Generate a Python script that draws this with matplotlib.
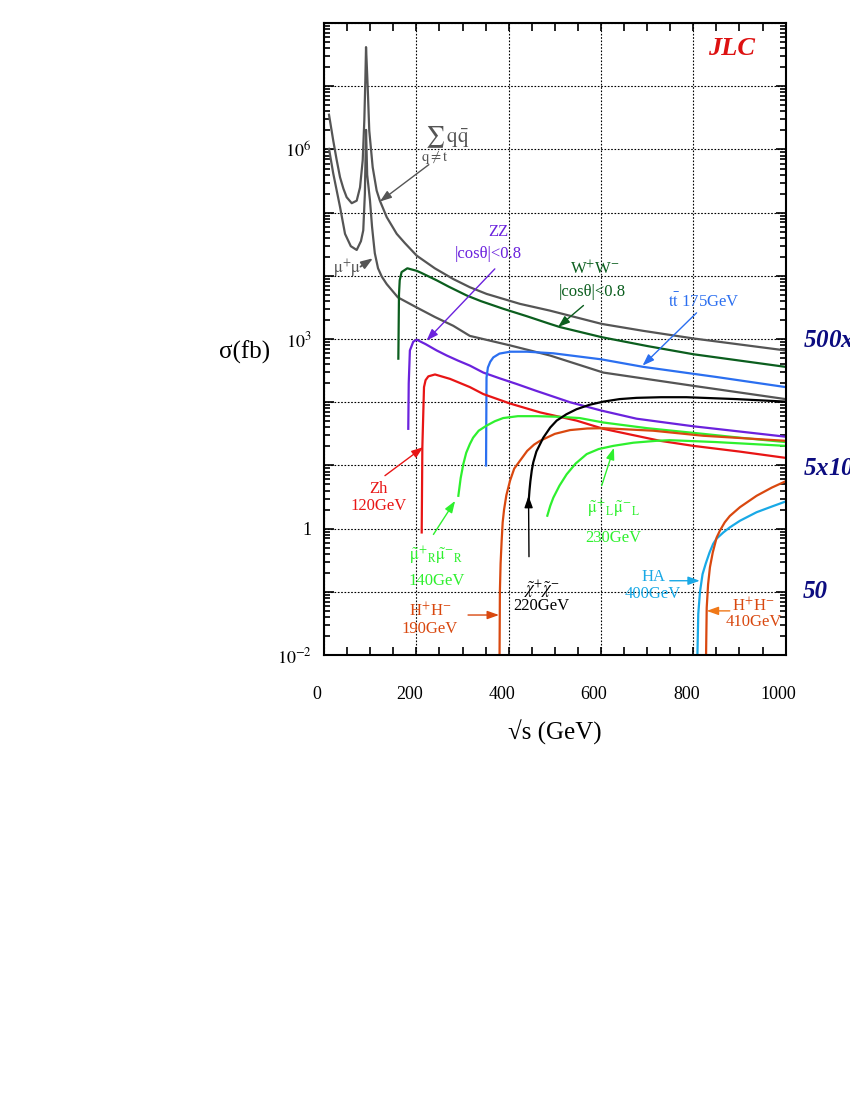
import numpy as np
import matplotlib
matplotlib.use('Agg')
import matplotlib.pyplot as plt
from matplotlib.ticker import FixedLocator, MultipleLocator, LogLocator, FuncFormatter, NullFormatter
from matplotlib.transforms import ScaledTranslation

plt.rcParams['font.family'] = ['Liberation Serif', 'DejaVu Serif']
plt.rcParams['mathtext.fontset'] = 'stix'

# sqrt(s) in GeV and log10 of the cross section in fb
qq_x = [10.8, 20, 27, 34.7, 42, 49, 60, 70.8, 78, 83.8, 87.3, 89.5, 91, 94.6, 98, 105.4, 114,
        121, 135.8, 157.5, 175, 200.8, 240, 280, 316, 352, 424.5, 489.5, 601.5, 691.6, 800, 1000]
qq_lg = [6.55, 6.14, 5.85, 5.56, 5.38, 5.245, 5.15, 5.19, 5.40, 5.83, 6.46, 7.09, 7.62, 6.99,
         6.30, 5.72, 5.35, 5.19, 4.93, 4.665, 4.52, 4.32, 4.12, 3.95, 3.82, 3.715, 3.557, 3.45,
         3.24, 3.13, 3.01, 2.82]

mumu_x = [10.8, 20, 34.7, 45.5, 58, 70.8, 80, 85, 88.5, 91, 93.5, 99.6, 104, 106.8, 110, 117,
          125, 135.8, 160, 200.8, 240, 280, 316, 403, 489.5, 605, 800, 1000]
mumu_lg = [6.01, 5.62, 5.09, 4.665, 4.47, 4.41, 4.55, 4.72, 5.3, 6.31, 5.6, 5.19, 4.78, 4.58,
           4.36, 4.12, 3.99, 3.87, 3.66, 3.50, 3.35, 3.21, 3.05, 2.90, 2.74, 2.47, 2.26, 2.05]

ww_x = [161, 162.4, 164, 168, 180.5, 200.8, 210, 244, 270, 309, 340, 388, 440, 489.5, 511,
        601.5, 700, 800, 900, 1000]
ww_lg = [2.69, 3.71, 3.93, 4.06, 4.12, 4.08, 4.05, 3.93, 3.83, 3.69, 3.60, 3.48, 3.36, 3.24,
         3.19, 3.03, 2.89, 2.76, 2.66, 2.56]

zz_x = [182.5, 183.5, 186, 193.4, 200.8, 220, 244, 265.8, 290, 316, 345, 380, 417, 460, 533,
        600, 677, 800, 1000]
zz_lg = [1.58, 2.3, 2.82, 2.96, 2.99, 2.92, 2.82, 2.74, 2.66, 2.58, 2.47, 2.38, 2.29, 2.18,
         2.0, 1.87, 1.74, 1.62, 1.455]

tt_x = [351, 352, 355, 360, 366.7, 380, 403, 440, 496.6, 600, 691.6, 850, 1000]
tt_lg = [1.0, 2.39, 2.55, 2.64, 2.71, 2.77, 2.80, 2.80, 2.775, 2.68, 2.56, 2.40, 2.24]

zh_x = [211.6, 213, 216.6, 220, 226, 240.4, 273, 316, 345, 403, 468, 547, 605, 728, 800, 900,
        1000]
zh_lg = [-0.06, 1.29, 2.24, 2.35, 2.41, 2.44, 2.37, 2.24, 2.13, 1.98, 1.84, 1.71, 1.58, 1.39,
         1.31, 1.22, 1.12]

smuR_x = [291, 296, 301.7, 308, 316, 323, 335, 352, 370, 388, 420, 460.7, 510, 554, 605, 700,
          821.5, 900, 1000]
smuR_lg = [0.52, 0.8, 1.02, 1.2, 1.34, 1.44, 1.55, 1.63, 1.70, 1.75, 1.78, 1.78, 1.77, 1.75,
           1.68, 1.59, 1.50, 1.44, 1.37]

smuL_x = [483.7, 490, 496.7, 510, 525.6, 545, 569, 595, 626.6, 670, 720, 749, 850, 1000]
smuL_lg = [0.205, 0.36, 0.49, 0.68, 0.86, 1.03, 1.18, 1.26, 1.31, 1.36, 1.39, 1.40, 1.37, 1.31]

hh190_x = [380, 381, 382.5, 384.8, 387, 390, 395, 403, 412, 425, 440, 455, 468, 500, 533, 570,
           605, 713, 821.5, 1000]
hh190_lg = [-2.3, -0.98, -0.55, -0.19, 0.1, 0.3, 0.53, 0.76, 0.95, 1.08, 1.23, 1.33, 1.39, 1.50,
            1.56, 1.585, 1.59, 1.55, 1.47, 1.39]

chi_x = [443, 445, 447, 450, 453.3, 460, 475, 490, 504, 525, 547, 575, 605, 640, 677, 730, 785,
         894, 1000]
chi_lg = [0.4, 0.6, 0.75, 0.92, 1.05, 1.22, 1.44, 1.6, 1.71, 1.81, 1.89, 1.96, 2.01, 2.05, 2.07,
          2.08, 2.08, 2.05, 2.01]

ha_x = [808, 810.7, 814.4, 820, 827, 835, 843, 850, 865, 879, 901, 937, 970, 1000]
ha_lg = [-2.3, -1.35, -1.0, -0.72, -0.55, -0.38, -0.24, -0.16, -0.06, 0.02, 0.125, 0.26, 0.35,
         0.43]

hh410_x = [827, 829, 832, 836, 842, 850.5, 857.7, 868, 879, 901, 937, 970, 1000]
hh410_lg = [-2.3, -1.25, -0.88, -0.61, -0.38, -0.14, -0.03, 0.1, 0.2, 0.34, 0.52, 0.65, 0.75]

gray = '#555555'
dkgreen = '#0b5e1e'
purple = '#6b22dd'
blue = '#2b6ff0'
red = '#e81515'
lgreen = '#2ef02e'
orange = '#d9480f'
cyan = '#19a9e6'

fig = plt.figure(figsize=(8.5, 11), dpi=100)
ax = fig.add_axes([0.3812, 0.4045, 0.5431, 0.5745])

curves = [(qq_x, qq_lg, gray), (mumu_x, mumu_lg, gray), (ww_x, ww_lg, dkgreen),
          (zz_x, zz_lg, purple), (tt_x, tt_lg, blue), (zh_x, zh_lg, red),
          (smuR_x, smuR_lg, lgreen), (smuL_x, smuL_lg, lgreen), (hh190_x, hh190_lg, orange),
          (chi_x, chi_lg, 'black'), (ha_x, ha_lg, cyan), (hh410_x, hh410_lg, orange)]
for xs, lg, c in curves:
    ax.plot(xs, 10.0 ** np.array(lg), color=c, lw=1.6, solid_joinstyle='round')

ax.set_yscale('log')
ax.set_xlim(0, 1000)
ax.set_ylim(1e-2, 1e8)

ax.xaxis.set_major_locator(MultipleLocator(200))
ax.xaxis.set_minor_locator(MultipleLocator(50))
ax.yaxis.set_major_locator(FixedLocator([10.0 ** k for k in range(-2, 9)]))
ax.yaxis.set_minor_locator(LogLocator(base=10, subs=np.arange(2, 10), numticks=100))
ax.yaxis.set_minor_formatter(NullFormatter())

ylab = {6: r'$10^{6}$', 3: r'$10^{3}$', 0: '1', -2: r'$10^{-2}$'}
ax.yaxis.set_major_formatter(FuncFormatter(
    lambda v, p: ylab.get(int(round(np.log10(v))), '')))

ax.tick_params(which='both', direction='in', top=True, right=True, width=1.2, labelsize=13)
ax.tick_params(axis='x', which='both', length=5.5, pad=22)
ax.tick_params(axis='y', which='major', length=7, pad=9)
ax.tick_params(axis='y', which='minor', length=4)
for s in ax.spines.values():
    s.set_linewidth(1.5)

ax.grid(True, which='major', ls=(0, (1.5, 1.5)), color='black', lw=0.8)

off = ScaledTranslation(-0.07, 0, fig.dpi_scale_trans)
for lab in ax.get_xticklabels():
    lab.set_transform(lab.get_transform() + off)

fig.text(245 / 850, 1 - 352 / 1100, 'σ(fb)', fontsize=18, ha='center', va='center')
fig.text(555 / 850, 1 - 732 / 1100, '√s (GeV)', fontsize=18, ha='center', va='center')

fig.text(731.7 / 850, 1 - 48.3 / 1100, 'JLC', fontsize=19, color='#dd1111',
         fontweight='bold', fontstyle='italic', ha='center', va='center')

navy = '#0c0c80'
for ypx, s in [(340, r'500x10$^{3}$'), (468, r'5x10$^{3}$'), (592, '50')]:
    fig.text(803 / 850, 1 - ypx / 1100, s, fontsize=18, color=navy, fontweight='bold',
             fontstyle='italic', ha='left', va='center')


def arrow(tail, tip, color, lw=1.0):
    ax.annotate('', xy=tip, xytext=tail,
                arrowprops=dict(arrowstyle='-|>,head_length=0.7,head_width=0.25',
                                color=color, lw=lw, shrinkA=0, shrinkB=0))


def label(x, y, s, color, size=12):
    ax.text(x, y, s, color=color, fontsize=size, ha='center', va='center')


label(262, 1.15e6, r'$\sum_{\mathrm{q\neq t}}\mathrm{q\bar{q}}$', gray, 15)
arrow((227, 5.75e5), (121, 1.5e5), gray)

label(58.5, 1.29e4, r'$\mathrm{\mu^{+}\mu^{-}}$', gray, 12)
arrow((79, 1.4e4), (106, 1.9e4), gray, 1.3)

label(377, 4.9e4, 'ZZ', purple)
label(355, 2.24e4, '|cosθ|<0.8', purple)
arrow((370, 1.29e4), (222, 945), purple)

label(587, 1.26e4, r'W$^{+}$W$^{-}$', dkgreen)
label(582, 5.5e3, '|cosθ|<0.8', dkgreen)
arrow((562, 3.4e3), (507, 1.55e3), dkgreen)

label(823, 3.8e3, r'$\mathrm{t\bar{t}}$ 175GeV', blue)
arrow((807, 2.6e3), (690, 380), blue)

label(117.6, 4.3, 'Zh', red)
label(117.6, 2.3, '120GeV', red)
arrow((132, 6.9), (215, 19.5), red)

label(242.6, 0.37, r'$\tilde{\mathrm{\mu}}^{+}{}_{\mathrm{R}}\tilde{\mathrm{\mu}}^{-}{}_{\mathrm{R}}$', lgreen)
label(244, 0.15, '140GeV', lgreen)
arrow((237, 0.81), (284, 2.75), lgreen)

label(229.6, 0.05, r'H$^{+}$H$^{-}$', orange)
label(229.6, 0.026, '190GeV', orange)
arrow((312, 0.043), (379, 0.043), orange)

label(471.5, 0.11, r'$\tilde{\chi}^{+}\tilde{\chi}^{-}$', 'black')
label(471.5, 0.059, '220GeV', 'black')
arrow((444, 0.36), (443, 3.3), 'black')

label(626.6, 2.04, r'$\tilde{\mathrm{\mu}}^{+}{}_{\mathrm{L}}\tilde{\mathrm{\mu}}^{-}{}_{\mathrm{L}}$', lgreen)
label(626.6, 0.72, '230GeV', lgreen)
arrow((601.5, 4.8), (628, 19), lgreen)

label(713, 0.17, 'HA', cyan)
label(713, 0.091, '400GeV', cyan)
arrow((749, 0.15), (814, 0.15), cyan)

label(930, 0.06, r'H$^{+}$H$^{-}$', orange)
label(930, 0.033, '410GeV', orange)
arrow((879, 0.05), (829, 0.05), '#f07818')

fig.savefig('out.png', dpi=100)
